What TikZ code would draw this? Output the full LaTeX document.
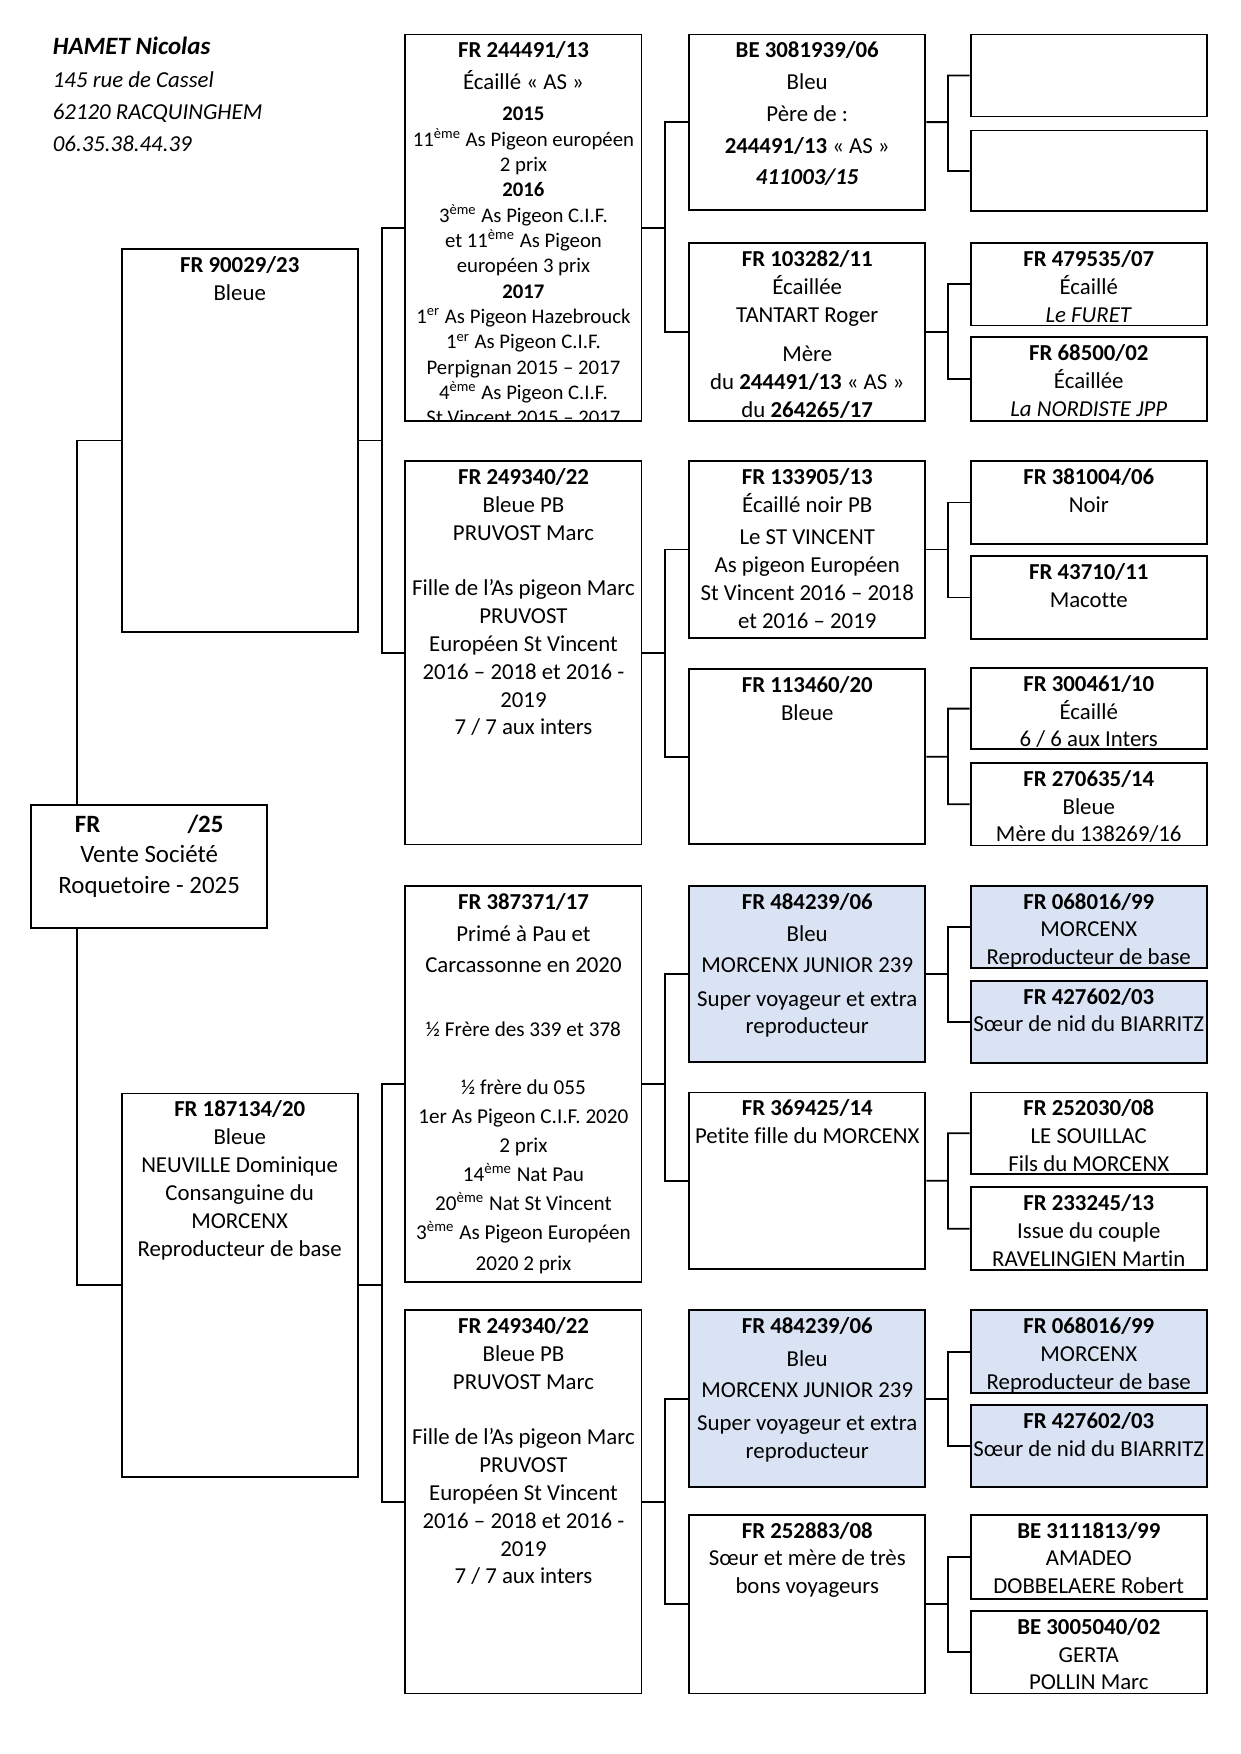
\documentclass[tikz,border=0pt]{standalone}
\usepackage{fontspec}
\setmainfont[Ligatures=NoCommon]{Carlito}
\usetikzlibrary{calc}

\definecolor{bleuclair}{RGB}{218,227,243}
\newcommand{\fiche}[3][1.9pt]{\parbox[t][#2][t]{4cm}{\centering\vspace*{#1}\strut#3}}

\begin{document}
\begin{tikzpicture}[x=0.018919cm, y=-0.018919cm,
        every node/.style={font=\fontsize{11}{13.4}\selectfont},
        fiche/.style={draw, line width=0.9pt, fill=white, inner sep=0pt, anchor=north west},
        bleu/.style={fiche, fill=bleuclair},
        lien/.style={line width=0.9pt}]
            \useasboundingbox (0,0) rectangle (1110,1570);

            \node[anchor=north west, align=left, inner sep=0pt,
                  font=\fontsize{11}{15.6}\selectfont\itshape] (eleveur) at (47,33)
                {{\fontsize{12}{15.6}\selectfont\textbf{HAMET Nicolas}}\\145 rue de Cassel\\
                62120 RACQUINGHEM\\06.35.38.44.39};

            \node[fiche] (root) at (27,720) {\fiche[3.5pt]{2.08cm}{\fontsize{12}{14.8}\selectfont
                \textbf{FR\hspace{42pt}/25}\\Vente Société\\Roquetoire - 2025}};

            \node[fiche] (a) at (108,222) {\fiche{6.49cm}{\textbf{FR 90029/23}\\Bleue}};
            \node[fiche] (b) at (108,978) {\fiche{6.49cm}{\textbf{FR 187134/20}\\Bleue\\
                NEUVILLE Dominique\\Consanguine du\\MORCENX\\Reproducteur de base}};

            \begin{scope}
                \clip (355,20) rectangle (580,376.9);
                \node[fiche] (c1) at (362,30) {\fiche{6.546cm}{\textbf{FR 244491/13}\\[1.9pt]
                    Écaillé « AS »\par\vspace{2.9pt}
                    {\fontsize{10}{12.2}\selectfont \textbf{2015}\\
                    11\textsuperscript{ème} As Pigeon européen\\2 prix\\\textbf{2016}\\
                    3\textsuperscript{ème} As Pigeon C.I.F.\\et 11\textsuperscript{ème} As Pigeon\\
                    européen 3 prix\\\textbf{2017}\\1\textsuperscript{er} As Pigeon Hazebrouck\\
                    1\textsuperscript{er} As Pigeon C.I.F.\\Perpignan 2015 – 2017\\
                    4\textsuperscript{ème} As Pigeon C.I.F.\\St Vincent 2015 – 2017\par}}};
            \end{scope}
            \node[fiche] (c2) at (362,412) {\fiche{6.49cm}{\textbf{FR 249340/22}\\Bleue PB\\
                PRUVOST Marc\\[13.4pt]Fille de l’As pigeon Marc\\PRUVOST\\Européen St Vincent\\
                2016 – 2018 et 2016 -\\2019\\7 / 7 aux inters}};
            \node[fiche] (c3) at (362,792) {\fiche{6.716cm}{\textbf{FR 387371/17}\\[2.2pt]
                Primé à Pau et\\[1.6pt]Carcassonne en 2020\\[18.5pt]
                {\fontsize{10.2}{12.4}\selectfont ½ Frère des 339 et 378\\[15.2pt]½ frère du 055\\[1.6pt]
                1er As Pigeon C.I.F. 2020\\[1.6pt]2 prix\\[1.6pt]14\textsuperscript{ème} Nat Pau\\[1.6pt]
                20\textsuperscript{ème} Nat St Vincent\\[1.6pt]3\textsuperscript{ème} As Pigeon Européen\\[1.6pt]
                2020 2 prix}}};
            \node[fiche] (c4) at (362,1172) {\fiche{6.49cm}{\textbf{FR 249340/22}\\Bleue PB\\
                PRUVOST Marc\\[13.4pt]Fille de l’As pigeon Marc\\PRUVOST\\Européen St Vincent\\
                2016 – 2018 et 2016 -\\2019\\7 / 7 aux inters}};

            \node[fiche] (d1) at (616,30) {\fiche{2.97cm}{\textbf{BE 3081939/06}\\[1.9pt]Bleu\\[1.9pt]
                Père de :\\[1.9pt]\textbf{244491/13} « AS »\\[1.9pt]\textbf{\textit{411003/15}}}};
            \node[fiche] (d2) at (616,217) {\fiche{3.008cm}{\textbf{FR 103282/11}\\Écaillée\\
                TANTART Roger\\[5.4pt]Mère\\du \textbf{244491/13} « AS »\\du \textbf{264265/17}}};
            \node[fiche] (d3) at (616,412) {\fiche{2.99cm}{\textbf{FR 133905/13}\\Écaillé noir PB\\[2.2pt]
                Le ST VINCENT\\As pigeon Européen\\St Vincent 2016 – 2018\\et 2016 – 2019}};
            \node[fiche] (d4) at (616,598) {\fiche{2.97cm}{\textbf{FR 113460/20}\\Bleue}};
            \node[bleu] (d5) at (616,792) {\fiche{2.99cm}{\textbf{FR 484239/06}\\[2.2pt]Bleu\\[1.6pt]
                MORCENX JUNIOR 239\\[2.7pt]Super voyageur et extra\\reproducteur}};
            \node[fiche] (d6) at (616,977) {\fiche{2.99cm}{\textbf{FR 369425/14}\\Petite fille du MORCENX}};
            \node[bleu] (d7) at (616,1172) {\fiche{2.99cm}{\textbf{FR 484239/06}\\[2.2pt]Bleu\\[1.6pt]
                MORCENX JUNIOR 239\\[2.7pt]Super voyageur et extra\\reproducteur}};
            \node[fiche] (d8) at (616,1355) {\fiche{3.027cm}{\textbf{FR 252883/08}\\
                Sœur et mère de très\\bons voyageurs}};

            \node[fiche] (e1) at (868,30) {\fiche{1.39cm}{}};
            \node[fiche] (e2) at (868,116) {\fiche{1.37cm}{}};
            \node[fiche] (e3) at (868,217) {\fiche{1.39cm}{\textbf{FR 479535/07}\\Écaillé\\\textit{Le FURET}}};
            \node[fiche] (e4) at (868,301) {\fiche{1.42cm}{\textbf{FR 68500/02}\\Écaillée\\\textit{La NORDISTE JPP}}};
            \node[fiche] (e5) at (868,412) {\fiche{1.40cm}{\textbf{FR 381004/06}\\Noir}};
            \node[fiche] (e6) at (868,497) {\fiche{1.40cm}{\textbf{FR 43710/11}\\Macotte}};
            \node[fiche] (e7) at (868,597) {\fiche{1.38cm}{\textbf{FR 300461/10}\\Écaillé\\6 / 6 aux Inters}};
            \node[fiche] (e8) at (868,682) {\fiche{1.40cm}{\textbf{FR 270635/14}\\Bleue\\Mère du 138269/16}};
            \node[bleu] (e9) at (868,792) {\fiche{1.40cm}{\textbf{FR 068016/99}\\MORCENX\\Reproducteur de base}};
            \node[bleu] (e10) at (868,877) {\fiche{1.40cm}{\textbf{FR 427602/03}\\Sœur de nid du BIARRITZ}};
            \node[fiche] (e11) at (868,977) {\fiche{1.38cm}{\textbf{FR 252030/08}\\LE SOUILLAC\\Fils du MORCENX}};
            \node[fiche] (e12) at (868,1062) {\fiche{1.40cm}{\textbf{FR 233245/13}\\Issue du couple\\RAVELINGIEN Martin}};
            \node[bleu] (e13) at (868,1172) {\fiche{1.40cm}{\textbf{FR 068016/99}\\MORCENX\\Reproducteur de base}};
            \node[bleu] (e14) at (868,1257) {\fiche{1.38cm}{\textbf{FR 427602/03}\\Sœur de nid du BIARRITZ}};
            \node[fiche] (e15) at (868,1355) {\fiche{1.42cm}{\textbf{BE 3111813/99}\\AMADEO\\DOBBELAERE Robert}};
            \node[fiche] (e16) at (868,1441) {\fiche{1.40cm}{\textbf{BE 3005040/02}\\GERTA\\POLLIN Marc}};

            \coordinate (tronc) at (69,0);
            \draw[lien] (root.north -| tronc) |- (a.west);
            \draw[lien] (root.south -| tronc) |- (b.west);

            \foreach \p/\u/\l in {a/c1/c2, b/c3/c4, c1/d1/d2, c2/d3/d4, c3/d5/d6, c4/d7/d8,
                    d1/e1/e2, d2/e3/e4, d3/e5/e6, d4/e7/e8, d5/e9/e10, d6/e11/e12, d7/e13/e14, d8/e15/e16}{
                \draw[lien] (\p.east) -- ($(\p.east)!0.5!(\u.west |- \p.east)$) coordinate (m)
                    (\u.west) -| (m) |- (\l.west);
            }
        \end{tikzpicture}
\end{document}
